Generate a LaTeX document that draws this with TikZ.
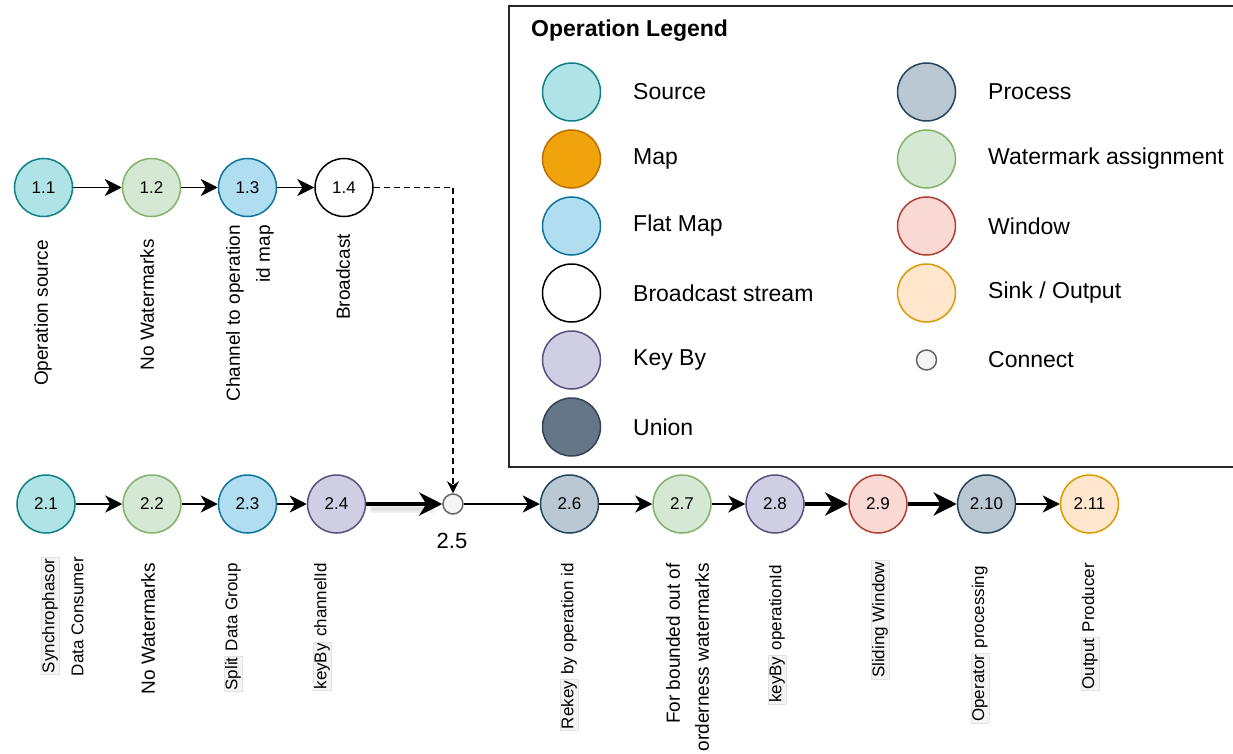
\documentclass[tikz,border=0pt]{standalone}
\usepackage{fontspec}
\setmainfont{Liberation Sans}
\usetikzlibrary{arrows.meta}
\definecolor{srcF}{HTML}{B0E3E6}\definecolor{srcD}{HTML}{0E8088}
\definecolor{mapF}{HTML}{F0A30A}\definecolor{mapD}{HTML}{BD7000}
\definecolor{fmF}{HTML}{B1DDF0}\definecolor{fmD}{HTML}{10739E}
\definecolor{keyF}{HTML}{D0CEE2}\definecolor{keyD}{HTML}{56517E}
\definecolor{uniF}{HTML}{647687}\definecolor{uniD}{HTML}{314354}
\definecolor{proF}{HTML}{BAC8D3}\definecolor{proD}{HTML}{23445D}
\definecolor{wmF}{HTML}{D5E8D4}\definecolor{wmD}{HTML}{82B366}
\definecolor{winF}{HTML}{FAD9D5}\definecolor{winD}{HTML}{AE4132}
\definecolor{snkF}{HTML}{FFE6CC}\definecolor{snkD}{HTML}{D79B00}
\definecolor{conF}{HTML}{F5F5F5}\definecolor{conD}{HTML}{666666}
\definecolor{hlF}{HTML}{F4F4F4}\definecolor{hlE}{HTML}{E2E2E2}
\newcommand{\hlbox}[1]{{\setlength{\fboxsep}{1pt}\setlength{\fboxrule}{0.5pt}\fcolorbox{hlE}{hlF}{\vphantom{Sy}#1}}}
\begin{document}
\begin{tikzpicture}[x=1pt,y=-1pt,
  op/.style={circle, draw, line width=1.5pt, minimum size=58pt, inner sep=0pt, font=\fontsize{17}{20}\selectfont},
  source/.style={op, fill=srcF, draw=srcD},
  mapop/.style={op, fill=mapF, draw=mapD},
  flatmap/.style={op, fill=fmF, draw=fmD},
  bcast/.style={op, fill=white, draw=black},
  keyby/.style={op, fill=keyF, draw=keyD},
  unionop/.style={op, fill=uniF, draw=uniD},
  process/.style={op, fill=proF, draw=proD},
  wmark/.style={op, fill=wmF, draw=wmD},
  window/.style={op, fill=winF, draw=winD},
  sink/.style={op, fill=snkF, draw=snkD},
  connect/.style={circle, draw=conD, fill=conF, line width=1.5pt, minimum size=20pt, inner sep=0pt},
  lbl/.style={rotate=90, anchor=east, font=\fontsize{19}{22}\selectfont, inner sep=0pt, align=right},
  lblsm/.style={lbl, font=\fontsize{17}{20}\selectfont},
  legtxt/.style={anchor=west, font=\fontsize{23}{27}\selectfont, inner sep=0pt},
  flow/.style={-{Stealth[length=17pt,width=17pt,inset=5pt]}, line width=1.5pt},
  bigflow/.style={-{Stealth[length=23pt,width=23pt,inset=7pt]}, line width=4pt},
  dflow/.style={-{Stealth[length=12pt,width=12pt,inset=4pt]}, line width=1.5pt, dash pattern=on 6pt off 4pt}
]
\useasboundingbox (0,0) rectangle (1233,754);

% ---------- Legend ----------
\node[draw=black!85, line width=2pt, minimum width=740pt, minimum height=461pt, anchor=north west, inner sep=0pt] (legend) at (508,5) {};
\node[anchor=west, inner sep=0pt, font=\fontsize{23}{27}\selectfont\bfseries] (legtitle) at (531,31) {Operation Legend};

\node[source]  (lg1) at (571.5,92) {};  \node[legtxt] (lt1) at (633,92) {Source};
\node[mapop]   (lg2) at (571.5,159) {}; \node[legtxt] (lt2) at (633,159) {Map};
\node[flatmap] (lg3) at (571.5,226) {}; \node[legtxt] (lt3) at (633,226) {Flat Map};
\node[bcast]   (lg4) at (571.5,293) {}; \node[legtxt] (lt4) at (633,293) {Broadcast stream};
\node[keyby]   (lg5) at (571.5,360) {}; \node[legtxt] (lt5) at (633,360) {Key By};
\node[unionop] (lg6) at (571.5,427) {}; \node[legtxt] (lt6) at (633,427) {Union};

\node[process] (lg7) at (926.5,92) {};  \node[legtxt] (lt7) at (988,92) {Process};
\node[wmark]   (lg8) at (926.5,159) {}; \node[legtxt] (lt8) at (988,159) {Watermark assignment};
\node[window]  (lg9) at (926.5,226) {}; \node[legtxt] (lt9) at (988,226) {Window};
\node[sink]    (lg10) at (926.5,293) {};\node[legtxt] (lt10) at (988,293) {Sink / Output};
\node[connect] (lg11) at (926.5,360) {};\node[legtxt] (lt11) at (988,360) {Connect};

% ---------- Top row ----------
\node[source]  (n11) at (43.5,187.5) {1.1};
\node[wmark]   (n12) at (151.5,187.5) {1.2};
\node[flatmap] (n13) at (247.5,187.5) {1.3};
\node[bcast]   (n14) at (344,187.5) {1.4};

\node[lbl] (l11) at (43,240) {Operation source};
\node[lbl] (l12) at (147,239) {No Watermarks};
\node[lbl] (l13) at (250,225) {Channel to operation\\[8pt]id map};
\node[lbl] (l14) at (343,234) {Broadcast};

% ---------- Bottom row ----------
\node[source]  (n21) at (46,504) {2.1};
\node[wmark]   (n22) at (152,504) {2.2};
\node[flatmap] (n23) at (247.5,504) {2.3};
\node[keyby]   (n24) at (336.5,504) {2.4};
\node[connect] (n25) at (453,504) {};
\node[font=\fontsize{22}{26}\selectfont, inner sep=0pt] (l25) at (452,541) {2.5};
\node[process] (n26) at (569.5,504) {2.6};
\node[wmark]   (n27) at (682,504) {2.7};
\node[keyby]   (n28) at (775,504) {2.8};
\node[window]  (n29) at (878,504) {2.9};
\node[process] (n210) at (986.5,504) {2.10};
\node[sink]    (n211) at (1089.5,504) {2.11};

\node[lblsm] (l21) at (62,557) {\hlbox{Synchrophasor}\\[9pt]Data Consumer};
\node[lbl] (l22) at (148,563) {No Watermarks};
\node[lblsm] (l23) at (233,563) {\hlbox{Split} Data Group};
\node[lblsm] (l24) at (322,563) {\hlbox{keyBy} channelId};
\node[lblsm] (l26) at (569,563) {\hlbox{Rekey} by operation id};
\node[lbl] (l27) at (687.5,563) {For bounded out of\\[7pt]orderness watermarks};
\node[lblsm] (l28) at (777,565) {\hlbox{keyBy} operationId};
\node[lblsm] (l29) at (880,560) {\hlbox{Sliding Window}};
\node[lblsm] (l210) at (980,566) {\hlbox{Operator} processing};
\node[lblsm] (l211) at (1090,563) {\hlbox{Output} Producer};

% ---------- Connectors ----------
\draw[flow] (n11) -- (n12);
\draw[flow] (n12) -- (n13);
\draw[flow] (n13) -- (n14);
\draw[dflow] (n14) -| (n25);

\draw[flow] (n21) -- (n22);
\draw[flow] (n22) -- (n23);
\draw[flow] (n23) -- (n24);
\draw[line width=7pt, black, opacity=0.06, shorten >=8pt, shorten <=4pt, transform canvas={yshift=-5pt}] (n24) -- (n25);
\draw[line width=4pt, black, opacity=0.06, shorten >=10pt, shorten <=6pt, transform canvas={yshift=-5pt}] (n24) -- (n25);
\draw[bigflow] (n24) -- (n25);
\draw[flow] (n25) -- (n26);
\draw[flow] (n26) -- (n27);
\draw[flow] (n27) -- (n28);
\draw[bigflow] (n28) -- (n29);
\draw[bigflow] (n29) -- (n210);
\draw[flow] (n210) -- (n211);
\end{tikzpicture}
\end{document}
